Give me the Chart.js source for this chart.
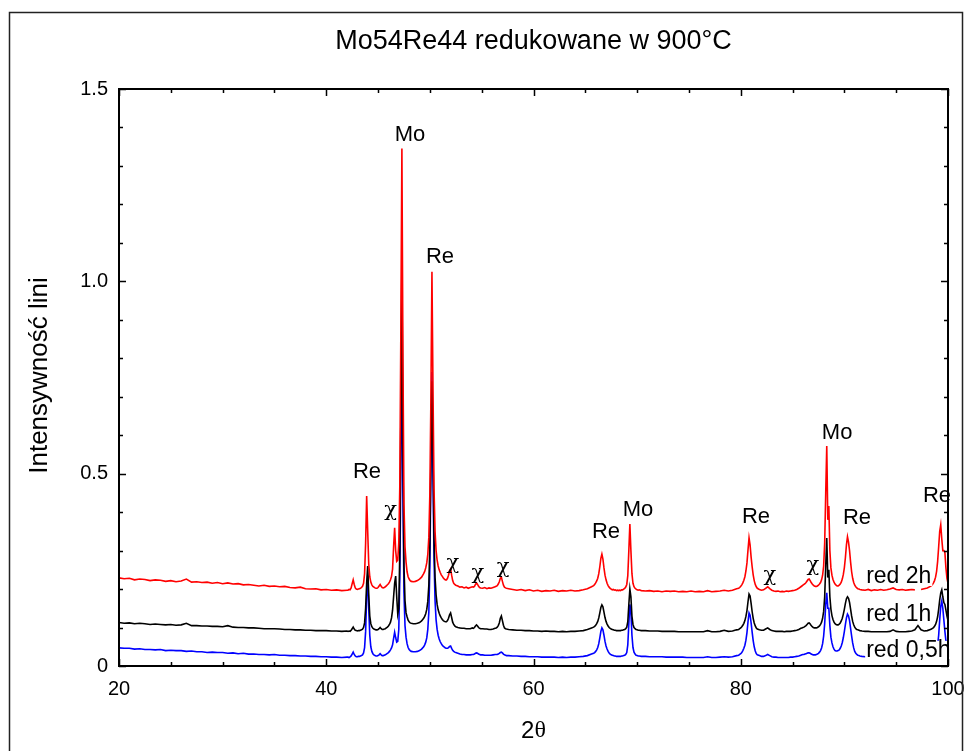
<!DOCTYPE html>
<html>
<head>
<meta charset="utf-8">
<script src="https://cdn.jsdelivr.net/npm/chart.js@4.4.1/dist/chart.umd.min.js"></script>
<style>
html, body { margin: 0; padding: 0; background: #fff; }
#wrap { width: 968px; height: 751px; position: relative; }
</style>
</head>
<body>
<div id="wrap"><canvas id="c" width="968" height="751"></canvas></div>
<script>
// 2-theta positions (degrees) shared by the three scans
const twoTheta = [
  20,20.5,21,21.5,22,22.5,23,23.5,24,24.5,25,25.5,26,26.5,27,27.5,28,28.5,29,29.5,
  30,30.5,31,31.5,32,32.5,33,33.5,34,34.5,35,35.5,36,36.5,37,37.5,38,38.5,39,39.5,
  40,40.5,41,41.5,42,
  42.1,42.2,42.3,42.4,42.5,42.6,42.7,42.8,42.9,
  43.0,43.1,43.2,43.3,43.4,43.5,43.6,43.7,43.8,43.9,
  44.0,44.1,44.2,44.3,44.4,44.5,44.6,44.7,44.8,44.9,
  45.0,45.1,45.2,45.3,45.4,45.5,45.6,45.7,45.8,45.9,
  46.0,46.1,46.2,46.3,46.4,46.5,46.6,46.7,46.8,46.9,
  47.0,47.1,47.2,47.3,47.4,47.5,47.6,47.7,47.8,47.9,
  48.0,48.1,48.2,
  48.4,48.6,48.8,49.0,49.2,49.4,
  49.5,49.6,49.7,49.8,49.9,
  50.0,50.1,50.2,50.3,50.4,50.5,50.6,50.7,50.8,50.9,
  51.0,51.1,51.2,51.3,51.4,51.5,51.6,51.7,51.8,51.9,
  52.0,52.1,52.2,52.3,52.4,52.5,
  52.7,52.9,53.1,53.3,53.5,53.7,53.9,54.1,
  54.2,54.3,54.4,54.5,54.6,54.7,54.8,54.9,
  55.1,55.3,55.5,55.7,55.9,56.1,56.3,
  56.4,56.5,56.6,56.7,56.8,56.9,57.0,57.1,57.2,57.3,57.4,
  57.6,58.0,58.4,58.8,59.2,59.6,60.0,60.4,60.8,61.2,61.6,62.0,62.4,62.8,63.2,63.6,64.0,64.4,64.8,65.2,65.6,
  65.8,65.9,
  66.0,66.1,66.2,66.3,66.4,66.5,66.6,66.7,66.8,66.9,
  67.0,67.1,67.2,67.3,67.4,67.5,67.6,67.7,67.8,67.9,
  68.0,68.1,68.2,68.3,68.4,68.5,68.6,68.7,68.8,68.9,
  69.0,69.1,69.2,69.3,69.4,69.5,69.6,69.7,69.8,69.9,
  70.0,70.1,70.2,
  70.4,70.8,71.2,71.6,72.0,72.4,72.8,73.2,73.6,74.0,74.4,74.8,75.2,75.6,76.0,76.4,76.8,77.2,77.6,78.0,78.4,78.8,79.2,79.6,
  79.8,79.9,80.0,80.1,80.2,80.3,80.4,80.5,80.6,80.7,80.8,80.9,81.0,81.1,81.2,81.3,81.4,81.5,81.6,
  81.8,82.0,82.2,82.4,82.6,82.8,83.0,83.2,83.4,83.6,83.8,84.0,84.2,84.4,84.6,84.8,85.0,85.2,85.4,85.6,85.8,
  85.9,
  86.0,86.1,86.2,86.3,86.4,86.5,86.6,86.7,86.8,86.9,
  87.0,87.1,87.2,87.3,87.4,87.5,87.6,87.7,87.8,87.9,
  88.0,88.1,88.2,88.3,88.4,88.5,88.6,88.7,88.8,88.9,
  89.0,89.1,89.2,89.3,89.4,89.5,89.6,89.7,89.8,89.9,
  90.0,90.1,90.2,90.3,90.4,90.5,90.6,90.7,90.8,90.9,
  91.0,91.1,91.2,91.3,91.4,91.5,
  91.7,92.0,92.3,92.6,92.9,93.2,93.5,93.8,94.1,94.4,94.7,95.0,95.3,95.6,95.9,96.2,96.5,96.8,97.1,97.4,97.7,98.0,98.3,
  98.4,98.5,98.6,98.7,98.8,98.9,99.0,99.1,99.2,99.3,99.4,99.5,99.6,99.7,99.8,99.9,100.0
];

// "red 2h" scan (shifted upward in the plot)
const red2h = [
  .229,.227,.228,.224,.226,.225,.222,.224,.223,.220,
  .222,.219,.221,.226,.218,.219,.217,.218,.215,.217,
  .214,.216,.213,.214,.211,.212,.210,.208,.210,.207,
  .208,.206,.207,.204,.203,.205,.201,.200,.201,.198,
  .199,.197,.198,.196,.197,
  .197,.199,.198,.203,.214,.224,.212,.203,.200,
  .199,.200,.201,.202,.204,.207,.215,.240,.320,.442,
  .350,.265,.232,.218,.211,.207,.205,.203,.202,.202,
  .204,.208,.212,.207,.204,.203,.204,.206,.208,.211,
  .214,.218,.224,.233,.252,.310,.359,.300,.272,.275,
  .320,.470,.880,1.345,.800,.420,.310,.270,.245,.232,
  .226,.222,.220,
  .219,.220,.222,.226,.231,.240,
  .246,.255,.268,.290,.335,
  .450,.700,1.025,.720,.460,.350,.300,.275,.260,.250,
  .243,.237,.233,.229,.226,.224,.224,.228,.236,.248,
  .252,.236,.222,.215,.212,.210,
  .208,.205,.206,.203,.205,.202,.204,.206,
  .205,.207,.212,.216,.212,.207,.204,.203,
  .202,.204,.201,.203,.202,.204,.206,
  .207,.209,.213,.219,.228,.231,.220,.210,.205,.203,.202,
  .201,.199,.197,.199,.196,.198,.195,.197,.194,.196,.195,.197,.194,.196,.195,.197,.195,.196,.198,.201,.206,
  .209,.212,
  .216,.221,.228,.240,.258,.280,.291,.278,.255,.236,
  .224,.215,.209,.205,.202,.200,.198,.199,.197,.198,
  .196,.197,.196,.197,.196,.198,.198,.200,.202,.205,
  .212,.235,.300,.369,.300,.240,.215,.206,.202,.200,
  .198,.197,.198,
  .196,.195,.196,.194,.195,.193,.195,.194,.195,.193,.194,.193,.195,.193,.194,.193,.196,.193,.194,.195,.197,.195,.197,.201,
  .202,.204,.207,.211,.216,.223,.232,.247,.268,.302,.333,.315,.283,.258,.237,.222,.212,.206,.202,
  .199,.197,.198,.202,.206,.201,.197,.195,.194,.195,.193,.194,.193,.195,.194,.195,.196,.197,.199,.202,.206,
  .208,
  .210,.212,.214,.217,.221,.225,.226,.222,.217,.213,
  .210,.208,.207,.207,.208,.210,.213,.217,.224,.236,
  .260,.320,.450,.572,.380,.416,.300,.255,.236,.225,
  .218,.213,.210,.208,.208,.210,.213,.218,.226,.238,
  .256,.282,.315,.336,.322,.300,.270,.245,.228,.217,
  .210,.206,.203,.201,.200,.199,
  .198,.197,.199,.196,.198,.197,.199,.197,.198,.200,.203,.199,.198,.199,.197,.198,.199,.198,null,.199,.201,.203,.207,
  .209,.212,.216,.222,.231,.246,.272,.310,.350,.367,.330,.300,.300,.295,.255,.228,.215
];

// "red 1h" scan
const red1h = [
  .113,.111,.112,.110,.111,.110,.108,.109,.108,.107,
  .108,.106,.107,.111,.105,.105,.104,.104,.103,.103,
  .102,.105,.101,.100,.100,.099,.099,.098,.097,.097,
  .097,.096,.095,.095,.094,.094,.093,.093,.092,.092,
  .092,.091,.091,.090,.091,
  .090,.091,.090,.093,.097,.101,.096,.093,.092,
  .091,.092,.092,.093,.094,.096,.100,.112,.150,.215,
  .260,.185,.130,.110,.102,.098,.096,.095,.094,.094,
  .095,.097,.100,.097,.095,.095,.096,.097,.099,.101,
  .104,.108,.114,.125,.145,.180,.215,.234,.180,.135,
  .150,.300,.650,1.050,.560,.260,.170,.138,.128,.119,
  .115,.112,.111,
  .110,.110,.111,.113,.117,.124,
  .129,.136,.147,.168,.210,
  .320,.540,.740,.560,.330,.230,.185,.160,.146,.137,
  .130,.125,.121,.118,.116,.115,.115,.118,.124,.133,
  .138,.126,.114,.108,.104,.102,
  .100,.099,.098,.098,.097,.097,.097,.099,
  .098,.100,.104,.107,.104,.100,.098,.097,
  .097,.096,.096,.095,.095,.096,.098,
  .099,.101,.105,.112,.124,.130,.118,.106,.099,.097,.096,
  .095,.094,.093,.093,.092,.092,.091,.091,.090,.091,.090,.090,.089,.090,.089,.090,.090,.091,.092,.095,.099,
  .101,.103,
  .106,.110,.116,.125,.138,.152,.159,.154,.140,.126,
  .116,.109,.104,.100,.098,.096,.095,.094,.093,.093,
  .092,.092,.092,.092,.092,.093,.093,.094,.095,.097,
  .101,.115,.160,.200,.180,.130,.108,.100,.097,.095,
  .094,.093,.093,
  .092,.092,.091,.091,.091,.090,.090,.090,.090,.089,.089,.089,.089,.089,.089,.089,.092,.089,.089,.090,.093,.090,.091,.094,
  .095,.097,.099,.102,.106,.111,.118,.129,.144,.167,.187,.182,.163,.141,.124,.112,.104,.099,.096,
  .094,.093,.093,.096,.099,.095,.092,.091,.090,.090,.090,.090,.089,.090,.090,.090,.091,.092,.093,.095,.098,
  .099,
  .100,.101,.103,.105,.108,.111,.112,.109,.105,.102,
  .100,.099,.099,.099,.100,.102,.104,.108,.114,.124,
  .142,.180,.260,.333,.230,.250,.180,.148,.131,.121,
  .114,.110,.108,.107,.107,.109,.112,.117,.124,.135,
  .148,.163,.175,.180,.176,.165,.148,.130,.116,.107,
  .101,.097,.095,.094,.093,.092,
  .091,.090,.090,.089,.089,.089,.089,.089,.089,.090,.094,.090,.089,.089,.089,.090,.091,.094,.105,.094,.091,.092,.095,
  .096,.098,.100,.103,.108,.116,.128,.148,.172,.190,.198,.180,.165,.160,.145,.130,.118
];

// "red 0,5h" scan
const red05h = [
  .047,.046,.046,.044,.045,.043,.043,.042,.043,.040,
  .041,.040,.040,.038,.039,.037,.037,.035,.036,.035,
  .035,.033,.034,.032,.033,.031,.031,.030,.030,.029,
  .030,.028,.028,.027,.027,.026,.026,.025,.025,.024,
  .024,.023,.023,.022,.023,
  .023,.022,.024,.026,.031,.036,.030,.026,.024,
  .024,.025,.025,.026,.027,.029,.034,.048,.090,.180,
  .235,.150,.080,.050,.038,.032,.029,.027,.026,.026,
  .027,.029,.032,.029,.027,.027,.028,.029,.031,.033,
  .035,.038,.042,.047,.055,.072,.088,.074,.062,.064,
  .095,.230,.520,.900,.450,.190,.105,.075,.058,.048,
  .043,.040,.038,
  .037,.037,.038,.040,.044,.050,
  .055,.062,.073,.095,.140,
  .260,.520,.764,.500,.280,.170,.120,.095,.080,.070,
  .063,.058,.054,.051,.049,.047,.046,.046,.048,.051,
  .052,.046,.041,.038,.036,.035,
  .033,.031,.030,.030,.029,.029,.029,.030,
  .030,.031,.033,.034,.033,.031,.030,.029,
  .029,.028,.028,.028,.028,.029,.030,
  .030,.030,.031,.033,.035,.036,.034,.031,.029,.028,.027,
  .027,.026,.026,.025,.025,.024,.024,.024,.023,.023,.023,.023,.022,.023,.022,.023,.023,.024,.025,.027,.031,
  .033,.035,
  .038,.042,.048,.058,.073,.090,.099,.094,.080,.064,
  .052,.044,.038,.034,.031,.029,.028,.027,.026,.026,
  .025,.025,.025,.025,.025,.026,.026,.027,.028,.030,
  .035,.055,.110,.160,.140,.080,.048,.036,.031,.028,
  .027,.026,.026,
  .025,.025,.024,.024,.024,.024,.023,.023,.023,.023,.023,.022,.022,.022,.022,.022,.024,.022,.022,.023,.024,.023,.024,.027,
  .028,.030,.032,.035,.040,.046,.054,.067,.087,.115,.138,.132,.112,.088,.066,.050,.039,.032,.029,
  .027,.025,.025,.027,.030,.027,.024,.023,.023,.022,.022,.022,.022,.022,.022,.023,.023,.024,.025,.026,.028,
  .029,
  .030,.030,.031,.032,.033,.034,.034,.033,.031,.030,
  .029,.029,.029,.030,.031,.033,.036,.040,.047,.058,
  .078,.110,.160,.190,.150,.150,.105,.075,.060,.050,
  .044,.040,.039,.039,.040,.042,.046,.052,.061,.074,
  .090,.108,.125,.135,.130,.118,.098,.078,.060,.047,
  .038,.033,.030,.028,.027,.026,
  .025,.024,.023,.023,.022,.022,.022,.022,.022,.023,.025,.022,.022,.022,.022,.022,.023,.024,.027,.024,.023,.024,.026,
  .027,.028,.030,.033,.037,.043,.055,.080,.120,.155,.169,.150,.120,.090,.065,.050,.040
];

// axis ticks
const xMajorTicks = [20, 40, 60, 80, 100];
const yMajorTicks = [0, 0.5, 1.0, 1.5];

// phase identification of the reflections
const phaseLabels = [
  { text: 'Re', x: 43.93, y: 0.504 },
  { text: 'χ',  x: 46.20, y: 0.404 },
  { text: 'Mo', x: 48.08, y: 1.380 },
  { text: 'Re', x: 50.98, y: 1.063 },
  { text: 'χ',  x: 52.23, y: 0.266 },
  { text: 'χ',  x: 54.64, y: 0.240 },
  { text: 'χ',  x: 57.06, y: 0.255 },
  { text: 'Re', x: 67.00, y: 0.348 },
  { text: 'Mo', x: 70.08, y: 0.406 },
  { text: 'Re', x: 81.47, y: 0.388 },
  { text: 'χ',  x: 82.80, y: 0.235 },
  { text: 'χ',  x: 86.95, y: 0.260 },
  { text: 'Mo', x: 89.30, y: 0.606 },
  { text: 'Re', x: 91.22, y: 0.386 },
  { text: 'Re', x: 98.94, y: 0.441 }
];

// scan names written next to each curve
const seriesLabels = [
  { text: 'red 2h',   x: 92.1, y: 0.234 },
  { text: 'red 1h',   x: 92.1, y: 0.135 },
  { text: 'red 0,5h', x: 92.1, y: 0.042 }
];

const SANS = '"Liberation Sans", Arial, Helvetica, sans-serif';
const SERIF = '"DejaVu Serif", "Liberation Serif", serif';

function toPoints(ys) {
  return twoTheta.map((x, i) => ({ x: x, y: ys[i] }));
}

const decorations = {
  id: 'decorations',
  beforeDraw(chart) {
    const ctx = chart.ctx;
    ctx.save();
    ctx.fillStyle = '#fff';
    ctx.fillRect(0, 0, chart.width, chart.height);
    ctx.restore();
  },
  afterDatasetsDraw(chart) {
    const ctx = chart.ctx;
    const { left, right, top, bottom } = chart.chartArea;
    const xs = chart.scales.x, ys = chart.scales.y;
    ctx.save();

    // scan names on white patches
    ctx.font = '23px ' + SANS;
    ctx.textBaseline = 'middle';
    ctx.textAlign = 'left';
    seriesLabels.forEach(l => {
      const px = xs.getPixelForValue(l.x), py = ys.getPixelForValue(l.y);
      const w = ctx.measureText(l.text).width;
      ctx.fillStyle = '#fff';
      ctx.fillRect(px - 1, py - 9, w + 2, 19);
      ctx.fillStyle = '#000';
      ctx.fillText(l.text, px, py + 1);
    });

    // plot frame
    ctx.strokeStyle = '#000';
    ctx.lineWidth = 2;
    ctx.strokeRect(left, top, right - left, bottom - top);

    // inward tick marks on all four sides
    ctx.lineWidth = 1.5;
    ctx.beginPath();
    for (let v = 20; v <= 100; v += 5) {
      const len = (v % 20 === 0) ? 7 : 4;
      const px = Math.round(xs.getPixelForValue(v)) + 0.5;
      ctx.moveTo(px, bottom); ctx.lineTo(px, bottom - len);
      ctx.moveTo(px, top); ctx.lineTo(px, top + len);
    }
    for (let k = 0; k <= 15; k++) {
      const len = (k % 5 === 0) ? 7 : 4;
      const py = Math.round(ys.getPixelForValue(k / 10)) + 0.5;
      ctx.moveTo(left, py); ctx.lineTo(left + len, py);
      ctx.moveTo(right, py); ctx.lineTo(right - len, py);
    }
    ctx.stroke();

    // phase labels
    ctx.fillStyle = '#000';
    ctx.textAlign = 'center';
    ctx.textBaseline = 'middle';
    phaseLabels.forEach(l => {
      ctx.font = (l.text === 'χ' ? '21px ' + SERIF : '22px ' + SANS);
      ctx.fillText(l.text, xs.getPixelForValue(l.x), ys.getPixelForValue(l.y));
    });

    // title
    ctx.font = '27px ' + SANS;
    ctx.fillText('Mo54Re44 redukowane w 900°C', (left + right) / 2, 42);

    // x axis title: "2" plus a serif theta
    const cx = (left + right) / 2;
    ctx.font = '24px ' + SANS;
    const w2 = ctx.measureText('2').width;
    ctx.font = '24px "Liberation Serif", serif';
    const wt = ctx.measureText('θ').width;
    const x0 = cx - (w2 + wt) / 2;
    ctx.textAlign = 'left';
    ctx.font = '24px ' + SANS;
    ctx.fillText('2', x0, 731);
    ctx.font = '24px "Liberation Serif", serif';
    ctx.fillText('θ', x0 + w2, 731);

    // y axis title
    ctx.translate(40, (top + bottom) / 2 - 2);
    ctx.rotate(-Math.PI / 2);
    ctx.textAlign = 'center';
    ctx.font = '26px ' + SANS;
    ctx.fillText('Intensywność lini', 0, 0);
    ctx.restore();

    // outer figure border
    ctx.save();
    ctx.strokeStyle = '#222';
    ctx.lineWidth = 1.5;
    ctx.strokeRect(9.5, 12.5, 953, 760);
    ctx.restore();
  }
};

new Chart(document.getElementById('c'), {
  type: 'line',
  data: {
    datasets: [
      { label: 'red 0,5h', data: toPoints(red05h), borderColor: '#0000ff', order: 2 },
      { label: 'red 1h',   data: toPoints(red1h),  borderColor: '#000000', order: 1 },
      { label: 'red 2h',   data: toPoints(red2h),  borderColor: '#ff0000', order: 0 }
    ]
  },
  options: {
    responsive: false,
    devicePixelRatio: 1,
    animation: false,
    parsing: false,
    spanGaps: false,
    datasets: {
      line: { borderWidth: 1.6, pointRadius: 0, tension: 0, fill: false }
    },
    layout: { padding: { left: 0, right: 20, top: 89, bottom: 0 } },
    plugins: { legend: { display: false }, tooltip: { enabled: false }, title: { display: false } },
    scales: {
      x: {
        type: 'linear', min: 20, max: 100,
        afterFit(s) { s.height = 85; s.paddingLeft = 0; s.paddingRight = 0; },
        afterBuildTicks(s) { s.ticks = xMajorTicks.map(v => ({ value: v })); },
        grid: { display: false, drawTicks: false },
        border: { display: false },
        ticks: { color: '#000', padding: 11, font: { family: SANS, size: 20 }, maxRotation: 0 }
      },
      y: {
        type: 'linear', min: 0, max: 1.5,
        afterFit(s) { s.width = 119; s.paddingTop = 0; s.paddingBottom = 0; },
        afterBuildTicks(s) { s.ticks = yMajorTicks.map(v => ({ value: v })); },
        grid: { display: false, drawTicks: false },
        border: { display: false },
        ticks: {
          color: '#000', padding: 11, font: { family: SANS, size: 20 },
          callback: v => (v === 0 ? '0' : v.toFixed(1))
        }
      }
    }
  },
  plugins: [decorations]
});
</script>
</body>
</html>
